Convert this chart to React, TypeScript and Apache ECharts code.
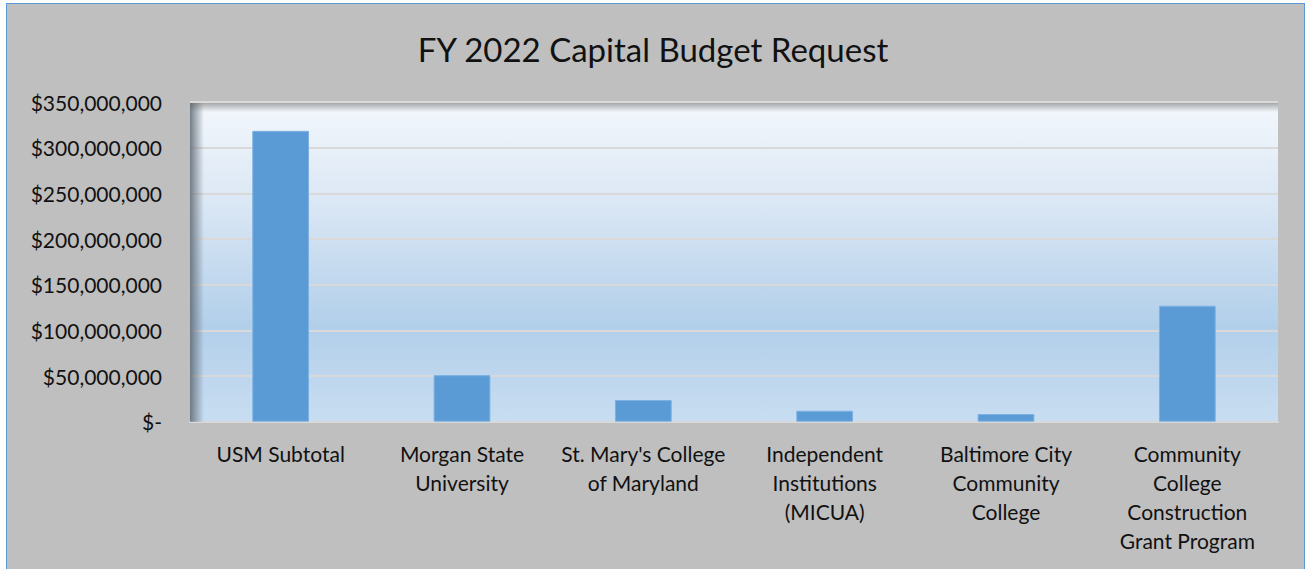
import React, { useEffect, useRef } from "react";
import * as echarts from "echarts";

const categories: string[] = [
  "USM Subtotal",
  "Morgan State\nUniversity",
  "St. Mary's College\nof Maryland",
  "Independent\nInstitutions\n(MICUA)",
  "Baltimore City\nCommunity\nCollege",
  "Community\nCollege\nConstruction\nGrant Program",
];
const requestValues: number[] = [318400000, 51000000, 23700000, 12000000, 8400000, 127000000];
const yTicks: number[] = [0, 50000000, 100000000, 150000000, 200000000, 250000000, 300000000, 350000000];
const chartTitle = "FY 2022 Capital Budget Request";

const FONT = "Lato, 'Open Sans', sans-serif";

function fmtMoney(v: number): string {
  if (v === 0) return "$-";
  return "$" + v.toLocaleString("en-US");
}

export default function App() {
  const ref = useRef<HTMLDivElement>(null);
  useEffect(() => {
    if (!ref.current) return;
    const chart = echarts.init(ref.current, null, { renderer: "svg" });
    const gLeft = 190, gTop = 102, gRight = 1278, gBottom = 421.7;
    chart.setOption({
      animation: false,
      backgroundColor: "transparent",
      title: {
        text: chartTitle,
        left: "center",
        top: 27,
        textStyle: { fontFamily: FONT, fontSize: 33, fontWeight: "normal", color: "#111" },
      },
      grid: {
        left: gLeft,
        top: gTop,
        right: 1306 - gRight,
        bottom: 569 - gBottom,
        show: true,
        borderWidth: 0,
        backgroundColor: new echarts.graphic.LinearGradient(0, 0, 0, 1, [
          { offset: 0, color: "#F3F7FC" },
          { offset: 0.3, color: "#DCE8F5" },
          { offset: 0.7, color: "#B2CFEA" },
          { offset: 1, color: "#C8DDF1" },
        ]),
      },
      xAxis: {
        type: "category",
        data: categories,
        axisTick: { show: false },
        axisLine: { show: true, lineStyle: { color: "#D9D9D9", width: 2 } },
        axisLabel: {
          interval: 0,
          margin: 17,
          fontFamily: FONT,
          fontSize: 21,
          lineHeight: 29,
          color: "#111",
          align: "center",
        },
      },
      yAxis: {
        type: "value",
        min: yTicks[0],
        max: yTicks[yTicks.length - 1],
        interval: yTicks[1] - yTicks[0],
        axisLine: { show: false },
        axisTick: { show: false },
        splitLine: { show: true, lineStyle: { color: "#D9D9D9", width: 2 } },
        axisLabel: {
          margin: 28,
          fontFamily: FONT,
          fontSize: 21,
          color: "#111",
          formatter: (v: number) => fmtMoney(v),
        },
      },
      graphic: [
        {
          type: "rect",
          shape: { x: gLeft, y: gTop, width: 14, height: gBottom - gTop },
          style: {
            fill: new echarts.graphic.LinearGradient(0, 0, 1, 0, [
              { offset: 0, color: "rgba(95,105,115,0.85)" },
              { offset: 1, color: "rgba(95,105,115,0)" },
            ]),
          },
          silent: true,
          z: 1,
        },
        {
          type: "rect",
          shape: { x: gLeft, y: gTop, width: gRight - gLeft, height: 10 },
          style: {
            fill: new echarts.graphic.LinearGradient(0, 0, 0, 1, [
              { offset: 0, color: "rgba(100,100,100,0.6)" },
              { offset: 1, color: "rgba(100,100,100,0)" },
            ]),
          },
          silent: true,
          z: 1,
        },
        {
          type: "line",
          shape: { x1: gLeft, y1: gTop, x2: gRight, y2: gTop },
          style: { stroke: "#DADADA", lineWidth: 2 },
          silent: true,
          z: 2,
        },
      ],
      series: [
        {
          type: "bar",
          data: requestValues,
          barWidth: "31.3%",
          itemStyle: { color: "#5B9BD5", borderColor: "#7DB1E2", borderWidth: 1 },
          z: 3,
        },
      ],
    });
    return () => chart.dispose();
  }, []);

  return (
    <div style={{ position: "fixed", left: 0, top: 0, width: 1306, height: 569, background: "#fff", overflow: "hidden" }}>
      <div
        style={{
          position: "absolute",
          left: 6,
          top: 3,
          width: 1299,
          height: 580,
          background: "#BFBFBF",
          borderLeft: "1.5px solid #5B9BD5",
          borderTop: "1.5px solid #5B9BD5",
          borderRight: "1.5px solid #5B9BD5",
          boxSizing: "border-box",
        }}
      />
      <div ref={ref} style={{ position: "absolute", left: 0, top: 0, width: 1306, height: 569 }} />
    </div>
  );
}
